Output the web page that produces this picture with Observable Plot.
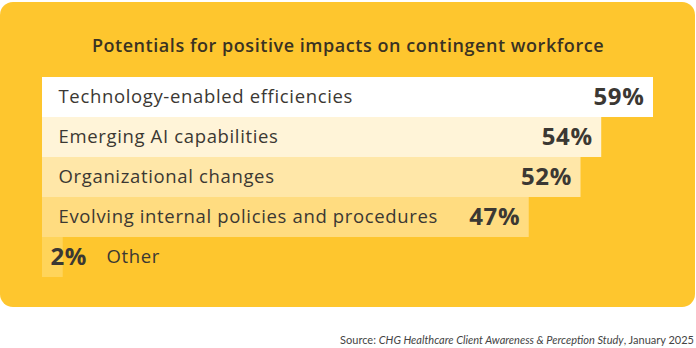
<!DOCTYPE html>
<html>
<head>
<meta charset="utf-8">
<script src="https://cdn.jsdelivr.net/npm/d3@7"></script>
<script src="https://cdn.jsdelivr.net/npm/@observablehq/plot@0.6"></script>
<style>
  html, body { margin: 0; padding: 0; background: #ffffff; }
  body { width: 696px; height: 348px; position: relative; overflow: hidden; font-family: "Open Sans", Lato, sans-serif; }
  #card { position: absolute; left: 0; top: 2px; width: 695px; height: 305px; background: #FEC62E; border-radius: 13px; }
  #title { position: absolute; left: 0; width: 696px; top: 33px; text-align: center; font-size: 18px; font-weight: 600; color: #3a3222; letter-spacing: 0.55px; }
  #chart { position: absolute; left: 0; top: 77px; }
  #chart text { letter-spacing: 0.65px; }
  #source { position: absolute; right: 2px; top: 333px; color: #444; font-family: Lato, sans-serif; font-size: 11px; }
</style>
</head>
<body>
<div id="card"></div>
<div id="title">Potentials for positive impacts on contingent workforce</div>
<div id="chart"></div>
<div id="source">Source: <i>CHG Healthcare Client Awareness &amp; Perception Study</i>, January 2025</div>
<script>
const categories = ["Technology-enabled efficiencies", "Emerging AI capabilities", "Organizational changes", "Evolving internal policies and procedures", "Other"];
const values = [59, 54, 52, 47, 2];
const barColors = ["#FFFFFF", "#FFF4D8", "#FFE7A8", "#FFDC80", "#FFD45A"];

const data = categories.map((c, i) => ({category: c, value: values[i], color: barColors[i], small: values[i] < 10}));

const chart = Plot.plot({
  width: 696,
  height: 200,
  marginLeft: 42,
  marginRight: 43,
  marginTop: 0,
  marginBottom: 0,
  style: {background: "transparent", fontFamily: "'Open Sans', Lato, sans-serif"},
  x: {domain: [0, 59], axis: null},
  y: {domain: categories, axis: null, padding: 0},
  marks: [
    Plot.barX(data, {x: "value", y: "category", fill: "color"}),
    Plot.text(data.filter(d => !d.small), {x: 0, y: "category", text: "category", textAnchor: "start", dx: 16, fontSize: 18.5, fill: "#3b3833"}),
    Plot.text(data.filter(d => d.small), {x: 0, y: "category", text: "category", textAnchor: "start", dx: 64, fontSize: 18.5, fill: "#3b3833"}),
    Plot.text(data.filter(d => !d.small), {x: "value", y: "category", text: d => d.value + "%", textAnchor: "end", dx: -9, fontSize: 24, fontWeight: 700, fill: "#3b3833"}),
    Plot.text(data.filter(d => d.small), {x: 0, y: "category", text: d => d.value + "%", textAnchor: "start", dx: 8, fontSize: 24, fontWeight: 700, fill: "#3b3833"})
  ]
});
document.getElementById("chart").appendChild(chart);
</script>
</body>
</html>
